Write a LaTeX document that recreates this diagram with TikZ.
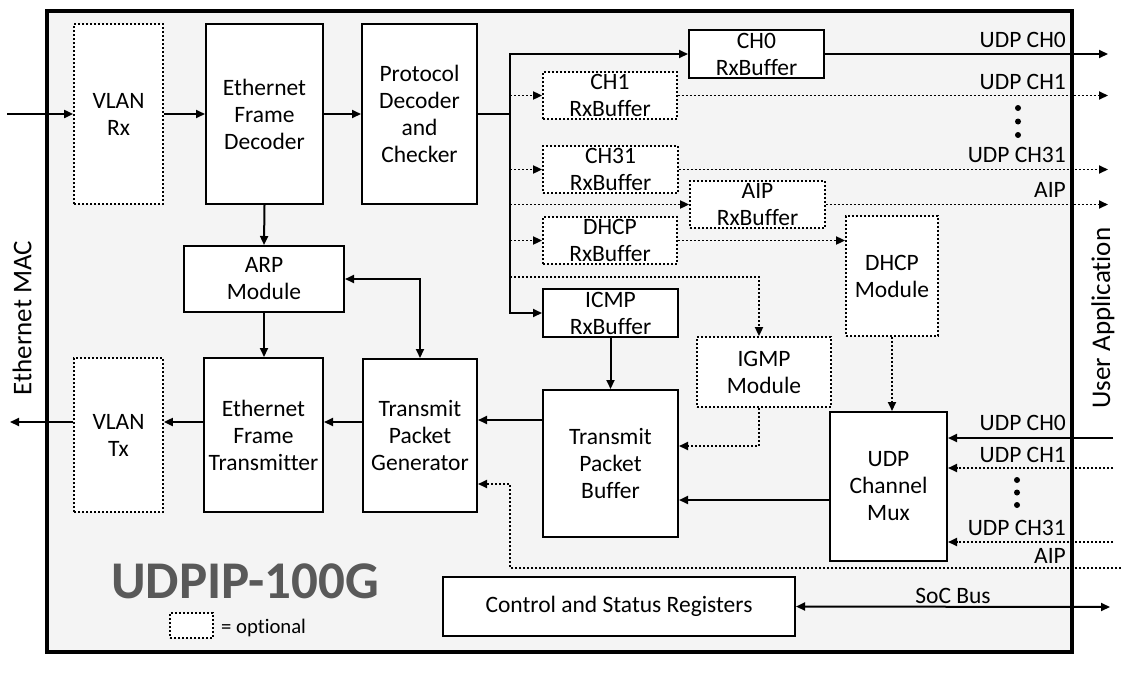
\documentclass[tikz,border=0pt]{standalone}
\usepackage{fontspec}
\setmainfont{Carlito}[Ligatures={NoCommon}]
\usetikzlibrary{arrows.meta}
\definecolor{tgray}{HTML}{595959}
\definecolor{bgray}{HTML}{F4F4F4}
\begin{document}
\begin{tikzpicture}[x=1pt,y=-1pt,
  blk/.style={draw, line width=2pt, fill=white, align=center, inner sep=0pt, font=\fontsize{23.5}{27}\selectfont},
  opt/.style={blk, line width=1.8pt, dash pattern=on 2pt off 2pt},
  arr/.style={line width=2pt, -{Triangle[length=9pt,width=8pt]}},
  arrb/.style={line width=2pt, {Triangle[length=9pt,width=8pt]}-{Triangle[length=9pt,width=8pt]}},
  darr/.style={line width=1.8pt, dash pattern=on 2pt off 2pt, -{Triangle[length=9pt,width=8pt]}},
  lbl/.style={inner sep=0pt, font=\fontsize{23.5}{27}\selectfont},
  side/.style={inner sep=0pt, font=\fontsize{27}{30}\selectfont, rotate=90}]
\useasboundingbox (0,0) rectangle (1121,678);
% outer frame
\draw[line width=4pt, fill=bgray] (47,11) rectangle (1072,652);
% boxes
\node[opt, minimum width=89pt, minimum height=180pt] (vrx) at (118.5,114) {VLAN\\Rx};
\node[blk, minimum width=117pt, minimum height=180pt] (efd) at (264.5,114) {Ethernet\\Frame\\Decoder};
\node[blk, minimum width=115pt, minimum height=180pt] (pdc) at (419.5,114) {Protocol\\Decoder\\and\\Checker};
\node[blk, minimum width=135pt, minimum height=48pt] (ch0) at (756.5,54) {CH0\\RxBuffer};
\node[opt, minimum width=134pt, minimum height=47pt] (ch1) at (610,95.5) {CH1\\RxBuffer};
\node[opt, minimum width=135pt, minimum height=47pt] (ch31) at (610.5,169.5) {CH31\\RxBuffer};
\node[opt, minimum width=135pt, minimum height=47pt] (aip) at (757.5,204.5) {AIP\\RxBuffer};
\node[opt, minimum width=134pt, minimum height=47pt] (dhcpb) at (610,240.5) {DHCP\\RxBuffer};
\node[blk, minimum width=135pt, minimum height=48pt] (icmp) at (610.5,313) {ICMP\\RxBuffer};
\node[opt, minimum width=92pt, minimum height=120pt] (dhcpm) at (892,276) {DHCP\\Module};
\node[opt, minimum width=134pt, minimum height=70pt] (igmp) at (764,372) {IGMP\\Module};
\node[blk, minimum width=160pt, minimum height=66pt] (arp) at (264,279) {ARP\\Module};
\node[blk, minimum width=119pt, minimum height=154pt] (eft) at (263.5,435) {Ethernet\\Frame\\Transmitter};
\node[opt, minimum width=89pt, minimum height=154pt] (vtx) at (118.5,435) {VLAN\\Tx};
\node[blk, minimum width=114pt, minimum height=153pt] (tpg) at (420,435.5) {Transmit\\Packet\\Generator};
\node[blk, minimum width=135pt, minimum height=147pt] (tpb) at (610.5,463.5) {Transmit\\Packet\\Buffer};
\node[blk, minimum width=117pt, minimum height=149pt] (mux) at (888.5,486.5) {UDP\\Channel\\Mux};
\node[blk, minimum width=352pt, minimum height=59pt] (csr) at (619,606.5) {Control and Status Registers};
\node[opt, minimum width=43pt, minimum height=25pt] (leg) at (191.5,625.5) {};
\node[lbl, anchor=west, font=\fontsize{20.7}{24}\selectfont] (legt) at (221,628) {= optional};
\node[inner sep=0pt, font=\fontsize{53}{60}\selectfont\bfseries, text=tgray] (title) at (245,581) {UDPIP-100G};
\node[side] (emac) at (22,318) {Ethernet MAC};
\node[side] (uapp) at (1103,318) {User Application};
% coordinates
\coordinate (inL) at (7,114);
\coordinate (outL) at (10,422);
\coordinate (bj) at (510,114);
\coordinate (o0) at (1108,54);
\coordinate (o1) at (1108,95.5);
\coordinate (o31) at (1108,169.5);
\coordinate (oa) at (1108,204.5);
\coordinate (ig) at (759,277);
\coordinate (igb) at (759,446);
\coordinate (tt) at (543,420);
\coordinate (ty) at (0,422);
\coordinate (mt) at (830,500);
\coordinate (i0) at (1113,438);
\coordinate (i1) at (1113,468);
\coordinate (i31) at (1113,542);
\coordinate (aipin) at (1121,568);
\coordinate (ac) at (510,568);
\coordinate (ad) at (510,484);
\coordinate (socR) at (1110,607);
% receive path
\draw[arr] (inL) -- (vrx.west);
\draw[arr] (vrx.east) -- (efd.west);
\draw[arr] (efd.east) -- (pdc.west);
\draw[line width=2pt] (pdc.east) -- (bj);
\draw[arr] (bj) |- (ch0.west);
\draw[arr] (bj) |- (icmp.west);
\draw[darr] (ch1.west -| bj) -- (ch1.west);
\draw[darr] (ch31.west -| bj) -- (ch31.west);
\draw[darr] (aip.west -| bj) -- (aip.west);
\draw[darr] (dhcpb.west -| bj) -- (dhcpb.west);
\draw[darr] (ig -| bj) -- (ig) -- (ig |- igmp.north);
% outputs
\draw[arr] (ch0.east) -- (o0);
\draw[darr] (ch1.east) -- (o1);
\draw[darr] (ch31.east) -- (o31);
\draw[darr] (aip.east) -- (oa);
\node[lbl, anchor=east] (lo0) at (1066,40) {UDP CH0};
\node[lbl, anchor=east] (lo1) at (1066,82) {UDP CH1};
\node[lbl, anchor=east] (lo31) at (1066,155) {UDP CH31};
\node[lbl, anchor=east] (loa) at (1066,190) {AIP};
\fill (1018,108) circle (3pt) (1018,121.5) circle (3pt) (1018,135) circle (3pt);
% DHCP / IGMP / ICMP
\draw[darr] (dhcpb.east) -- (dhcpb.east -| dhcpm.west);
\draw[darr] (dhcpm.south) -- (dhcpm.south |- mux.north);
\draw[arr] (icmp.south) -- (tpb.north);
\draw[darr] (ig |- igmp.south) -- (igb) -- (igb -| tpb.east);
% transmit path
\draw[arr] (tt) -- (tt -| tpg.east);
\draw[arr] (mt) -- (mt -| tpb.east);
\draw[arr] (tpg.west |- ty) -- (eft.east |- ty);
\draw[arr] (eft.west |- ty) -- (vtx.east |- ty);
\draw[arr] (vtx.west |- ty) -- (outL);
\draw[arr] (efd.south) -- (arp.north);
\draw[arr] (arp.south) -- (arp.south |- eft.north);
\draw[arrb] (arp.east) -| (tpg.north);
% user inputs
\draw[arr] (i0) -- (i0 -| mux.east);
\draw[darr] (i1) -- (i1 -| mux.east);
\draw[darr] (i31) -- (i31 -| mux.east);
\node[lbl, anchor=east] (li0) at (1066,423) {UDP CH0};
\node[lbl, anchor=east] (li1) at (1066,455) {UDP CH1};
\node[lbl, anchor=east] (li31) at (1066,528) {UDP CH31};
\node[lbl, anchor=east] (lia) at (1066,556) {AIP};
\fill (1017,480) circle (3pt) (1017,492.5) circle (3pt) (1017,505) circle (3pt);
\draw[darr] (aipin) -- (ac) -- (ad) -- (ad -| tpg.east);
% SoC bus
\draw[arrb] (csr.east) -- (socR);
\node[lbl, anchor=south] (lsoc) at (953,604) {SoC Bus};
\end{tikzpicture}
\end{document}
